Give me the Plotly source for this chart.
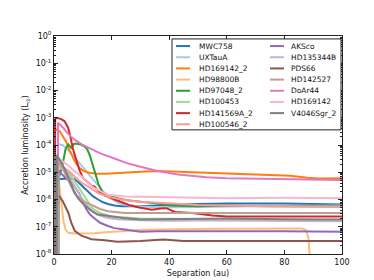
import plotly.graph_objects as go

# ---------------- data ----------------
names = ["MWC758", "UXTauA", "HD169142_2", "HD98800B", "HD97048_2", "HD100453",
         "HD141569A_2", "HD100546_2", "AKSco", "HD135344B", "PDS66", "HD142527",
         "DoAr44", "HD169142", "V4046Sgr_2"]

colors = ["#1f77b4", "#aec7e8", "#ff7f0e", "#ffbb78", "#2ca02c", "#98df8a",
          "#d62728", "#ff9896", "#9467bd", "#c5b0d5", "#8c564b", "#c49c94",
          "#e377c2", "#f7b6d2", "#7f7f7f"]

mwc758_x = [1.3, 2, 4, 6, 7, 8.3, 10, 11.8, 13.5, 15.3, 17, 18.75, 21, 23.4, 30, 36, 42, 50, 60, 70, 80, 90, 100]
mwc758_y = [5.2e-6, 5.6e-6, 5.8e-6, 6.0e-6, 5.6e-6, 4.5e-6, 3.0e-6, 1.95e-6, 1.32e-6, 1.0e-6, 7.9e-7, 6.8e-7,
            6.0e-7, 5.6e-7, 5.6e-7, 6.0e-7, 6.5e-7, 6.8e-7, 7.1e-7, 7.2e-7, 7.1e-7, 6.8e-7, 6.5e-7]

uxtaua_x = [1.3, 2, 3, 4, 5, 6, 7, 8, 9.5, 11, 13, 15, 17, 19, 21, 23, 26, 30, 35, 42, 50, 60, 70, 80, 90, 100]
uxtaua_y = [1.07e-4, 1.05e-4, 1.0e-4, 7.9e-5, 6.3e-5, 5.0e-5, 3.8e-5, 2.8e-5, 1.78e-5, 1.12e-5, 6.3e-6, 3.5e-6,
            2.0e-6, 1.26e-6, 8.9e-7, 7.1e-7, 6.0e-7, 5.5e-7, 5.2e-7, 5.2e-7, 5.4e-7, 5.5e-7, 5.6e-7, 5.75e-7, 5.9e-7, 6.0e-7]

hd169142_2_x = [0.5, 1, 2, 3, 4.3, 5, 6, 7, 7.8, 9, 10, 11.5, 13, 15, 18, 22, 25, 30, 36, 45, 55, 65, 75, 82, 88, 92, 100]
hd169142_2_y = [3.5e-4, 3.7e-4, 3.2e-4, 2.2e-4, 1.26e-4, 7.9e-5, 4.5e-5, 2.8e-5, 2.0e-5, 1.4e-5, 1.17e-5, 1.0e-5,
                9.3e-6, 8.9e-6, 8.9e-6, 9.5e-6, 1.0e-5, 1.05e-5, 1.1e-5, 1.02e-5, 9.1e-6, 8.5e-6, 7.9e-6, 7.4e-6,
                6.3e-6, 5.9e-6, 6.0e-6]

hd98800b_x = [1.3, 2, 2.7, 3.3, 4, 5, 7, 10, 14, 18, 22, 26, 30, 36, 42, 50, 60, 70, 80, 86, 87.5, 88.3, 89, 90]
hd98800b_y = [1.0e-5, 2.5e-6, 6.3e-7, 1.6e-7, 7.9e-8, 6.0e-8, 5.6e-8, 5.6e-8, 5.75e-8, 6.3e-8, 6.8e-8, 7.2e-8,
              7.6e-8, 7.9e-8, 7.9e-8, 8.3e-8, 8.5e-8, 8.7e-8, 8.7e-8, 8.7e-8, 7.6e-8, 4.0e-8, 5e-9, 1e-10]

hd97048_2_x = [1.6, 1.7, 2.5, 3.2, 4, 5, 6, 7, 8, 9, 10.5, 11.5, 12.5, 13.5, 14.5, 15.5, 17, 19, 22, 26, 30, 36, 40,
               50, 60, 75, 100]
hd97048_2_y = [1e-10, 6.3e-6, 1.26e-5, 2.5e-5, 7.1e-5, 1.05e-4, 7.9e-5, 1.12e-4, 1.12e-4, 1.07e-4, 8.9e-5, 7.1e-5,
               4.0e-5, 1.78e-5, 7.9e-6, 3.5e-6, 1.78e-6, 1.4e-6, 1.12e-6, 9.1e-7, 8.3e-7, 7.1e-7, 6.0e-7, 5.6e-7,
               5.9e-7, 5.6e-7, 5.5e-7]

hd100453_x = [1.5, 1.6, 3, 5, 7, 9.5, 11.8, 13.5, 16, 20, 30, 50, 75, 100]
hd100453_y = [1e-10, 1.6e-5, 1.26e-5, 1.0e-5, 5.0e-6, 2.0e-6, 7.9e-7, 4.5e-7, 3.2e-7, 2.4e-7, 2.0e-7, 1.9e-7,
              1.8e-7, 1.75e-7]

hd141569a_2_x = [0.3, 0.4, 1, 2.5, 3.7, 4.9, 5.5, 6.6, 7.8, 8.9, 10, 11.8, 13, 14, 15.5, 17.6, 20, 23, 26, 30, 34,
                 37, 39, 42, 48, 55, 60, 100]
hd141569a_2_y = [1e-10, 8.9e-4, 1.0e-3, 8.9e-4, 7.4e-4, 4.3e-4, 2.5e-4, 7.1e-5, 2.7e-5, 1.17e-5, 6.3e-6, 4.0e-6,
                 3.2e-6, 3.0e-6, 2.0e-6, 1.4e-6, 1.12e-6, 8.3e-7, 6.3e-7, 5.0e-7, 4.2e-7, 4.7e-7, 4.8e-7, 3.5e-7,
                 3.2e-7, 2.6e-7, 2.4e-7, 2.4e-7]

hd100546_2_x = [1.3, 2, 3, 5, 7.2, 9.5, 11.8, 13.5, 15.3, 18.75, 24.5, 30, 40, 50, 60, 80, 100]
hd100546_2_y = [2.0e-5, 1.78e-5, 1.6e-5, 1.12e-5, 6.8e-6, 4.2e-6, 3.0e-6, 2.2e-6, 1.7e-6, 1.26e-6, 9.5e-7, 8.3e-7,
                7.1e-7, 6.3e-7, 5.9e-7, 5.6e-7, 5.4e-7]

aksco_x = [1.3, 2, 3, 5, 7, 8.9, 10, 11.2, 12.5, 14.1, 16, 18.75, 21, 24.5, 30, 36, 42, 50, 60, 80, 100]
aksco_y = [1.26e-5, 1.0e-5, 7.9e-6, 5.0e-6, 3.2e-6, 1.58e-6, 7.9e-7, 4.5e-7, 2.8e-7, 2.0e-7, 1.4e-7, 1.07e-7,
           8.9e-8, 7.9e-8, 6.6e-8, 6.8e-8, 6.9e-8, 6.8e-8, 6.9e-8, 6.8e-8, 6.6e-8]

hd135344b_x = [1.3, 3, 5, 7, 9, 11, 13, 15, 18, 22, 30, 40, 50, 70, 100]
hd135344b_y = [2.5e-5, 1.6e-5, 7.9e-6, 3.2e-6, 1.4e-6, 7.1e-7, 4.0e-7, 2.8e-7, 2.2e-7, 1.9e-7, 1.74e-7, 1.66e-7,
               1.7e-7, 1.66e-7, 1.58e-7]

pds66_x = [1.3, 2, 3, 4, 5, 6, 7.2, 9.5, 13, 17.6, 22, 30, 38, 45, 60, 80, 100]
pds66_y = [1.4e-6, 1.26e-6, 8.9e-7, 5.0e-7, 3.2e-7, 1.4e-7, 7.1e-8, 4.7e-8, 3.5e-8, 3.2e-8, 2.8e-8, 3.0e-8,
           3.4e-8, 3.0e-8, 3.0e-8, 2.9e-8, 3.0e-8]

hd142527_x = [1.3, 3, 5, 7.2, 10, 13, 16, 18.75, 24.5, 30, 45, 60, 80, 100]
hd142527_y = [2.5e-5, 1.4e-5, 5.0e-6, 1.6e-6, 8.9e-7, 6.3e-7, 4.5e-7, 3.7e-7, 3.2e-7, 3.2e-7, 3.2e-7, 3.2e-7,
              3.2e-7, 3.2e-7]

doar44_x = [1.3, 1.4, 3, 5, 7, 10, 13, 16.5, 21, 25, 30, 36, 43, 53, 60, 80, 100]
doar44_y = [1e-10, 6.6e-4, 4.5e-4, 2.5e-4, 1.6e-4, 1.0e-4, 7.1e-5, 4.7e-5, 3.2e-5, 2.2e-5, 1.6e-5, 1.12e-5,
            8.3e-6, 6.6e-6, 6.0e-6, 5.5e-6, 5.2e-6]

hd169142_x = [1.3, 2, 3, 5, 7, 9.5, 11.8, 14, 16.4, 18.75, 24.5, 30, 42, 50, 60, 80, 100]
hd169142_y = [3.2e-5, 2.8e-5, 2.5e-5, 1.78e-5, 1.12e-5, 7.1e-6, 4.0e-6, 2.6e-6, 1.95e-6, 1.48e-6, 1.29e-6, 1.26e-6,
              1.2e-6, 1.12e-6, 1.12e-6, 1.15e-6, 1.1e-6]

v4046sgr_2_x = [0.05, 0.2, 0.45, 0.6, 0.85, 1.0, 1.1, 2, 3.7, 5, 6, 7, 8.3, 10, 11.8, 13.5, 15.3, 18.75, 24, 30,
                40, 50, 60, 80, 100]
v4046sgr_2_y = [1e-10, 3.6e-5, 1e-10, 3.8e-5, 1e-10, 4.0e-5, 4.1e-5, 2.8e-5, 1.35e-5, 6.3e-6, 3.4e-6, 2.0e-6,
                1.12e-6, 7.1e-7, 4.9e-7, 3.5e-7, 2.8e-7, 2.5e-7, 2.1e-7, 1.86e-7, 1.9e-7, 2.0e-7, 2.0e-7, 1.9e-7,
                1.86e-7]

series_x = [mwc758_x, uxtaua_x, hd169142_2_x, hd98800b_x, hd97048_2_x, hd100453_x, hd141569a_2_x, hd100546_2_x,
            aksco_x, hd135344b_x, pds66_x, hd142527_x, doar44_x, hd169142_x, v4046sgr_2_x]
series_y = [mwc758_y, uxtaua_y, hd169142_2_y, hd98800b_y, hd97048_2_y, hd100453_y, hd141569a_2_y, hd100546_2_y,
            aksco_y, hd135344b_y, pds66_y, hd142527_y, doar44_y, hd169142_y, v4046sgr_2_y]

x_ticks = [0, 20, 40, 60, 80, 100]
y_tick_vals = [1e0, 1e-1, 1e-2, 1e-3, 1e-4, 1e-5, 1e-6, 1e-7, 1e-8]
y_tick_text = ["10<sup>0</sup>", "10<sup>-1</sup>", "10<sup>-2</sup>", "10<sup>-3</sup>", "10<sup>-4</sup>",
               "10<sup>-5</sup>", "10<sup>-6</sup>", "10<sup>-7</sup>", "10<sup>-8</sup>"]

# ---------------- figure ----------------
W, H = 374, 280
ML, MR, MT, MB = 46, 40, 28, 29
PW, PH = W - ML - MR, H - MT - MB
FONT = "DejaVu Sans"

fig = go.Figure()
for nm, c, xs, ys in zip(names, colors, series_x, series_y):
    fig.add_trace(go.Scatter(x=xs, y=ys, mode="lines", name=nm,
                             line=dict(color=c, width=2), showlegend=False))

def px2x(px):
    return (px - ML) / PW

def py2y(py):
    return (MT + PH - py) / PH

# manual legend (matplotlib-like compact box, two columns)
shapes = [dict(type="rect", xref="paper", yref="paper",
               x0=px2x(164), x1=px2x(333), y0=py2y(124), y1=py2y(31),
               line=dict(color="#222222", width=1), fillcolor="white", layer="above")]
annotations = []
row0, pitch = 38.3, 11.43
for i, (nm, c) in enumerate(zip(names, colors)):
    col, row = (0, i) if i < 8 else (1, i - 8)
    ky = row0 + row * pitch
    kx0, kx1, tx = (168, 182, 189) if col == 0 else (262, 276, 281)
    shapes.append(dict(type="line", xref="paper", yref="paper",
                       x0=px2x(kx0), x1=px2x(kx1), y0=py2y(ky), y1=py2y(ky),
                       line=dict(color=c, width=2), layer="above"))
    annotations.append(dict(text=nm, xref="paper", yref="paper", x=px2x(tx), y=py2y(ky),
                            xanchor="left", yanchor="middle", showarrow=False,
                            font=dict(family=FONT, size=7.5, color="#111111")))

fig.update_layout(
    width=W, height=H,
    margin=dict(l=ML, r=MR, t=MT, b=MB, pad=0),
    paper_bgcolor="white", plot_bgcolor="white",
    font=dict(family=FONT, size=8, color="#111111"),
    shapes=shapes, annotations=annotations,
    xaxis=dict(range=[0, 100], tickvals=x_ticks, ticks="inside", ticklen=4, tickwidth=1,
               tickcolor="#222222", showline=True, linecolor="#222222", linewidth=1, mirror="ticks",
               showgrid=False, zeroline=False, tickfont=dict(size=8),
               title=dict(text="Separation (au)", font=dict(size=8), standoff=4)),
    yaxis=dict(type="log", range=[-8, 0], tickvals=y_tick_vals, ticktext=y_tick_text,
               ticks="inside", ticklen=4, tickwidth=1, tickcolor="#222222",
               showline=True, linecolor="#222222", linewidth=1, mirror="ticks",
               showgrid=False, zeroline=False, tickfont=dict(size=8),
               minor=dict(dtick="D1", ticks="inside", ticklen=2, tickcolor="#222222", showgrid=False),
               title=dict(text="Accretion luminosity (L<sub>⊙</sub>)", font=dict(size=8), standoff=5)),
)

fig.write_html("out.html")
